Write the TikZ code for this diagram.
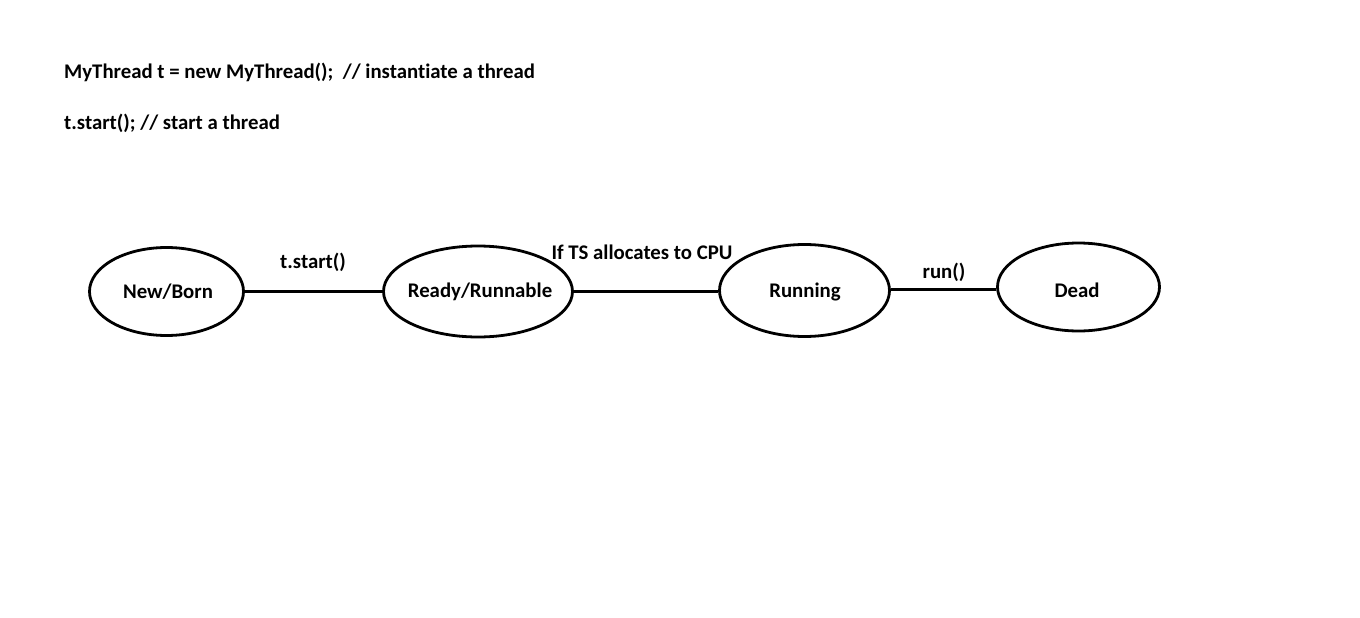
\documentclass[tikz,border=0pt]{standalone}
\usepackage{fontspec}
\setmainfont[RawFeature=-liga]{Carlito}
\usetikzlibrary{shapes.geometric}
\begin{document}
\begin{tikzpicture}[x=1pt,y=-1pt,
  state/.style={draw,line width=2.8pt,ellipse,inner sep=0pt},
  txt/.style={font=\bfseries\fontsize{20.8}{24}\selectfont,inner sep=0pt},
  conn/.style={line width=3pt}]
\useasboundingbox (0,0) rectangle (1360,618);
\fill[white] (0,0) rectangle (1360,618);
\node[txt,anchor=base west] (l1) at (64,78) {MyThread t = new MyThread();~~// instantiate a thread};
\node[txt,anchor=base west] (l2) at (64,129) {t.start(); // start a thread};
\node[state,minimum width=154,minimum height=88] (nb) at (166.5,291.5) {};
\node[state,minimum width=189,minimum height=91] (rr) at (478,291.5) {};
\node[state,minimum width=170,minimum height=92] (ru) at (804.5,290.5) {};
\node[state,minimum width=162,minimum height=88] (de) at (1078.5,287) {};
\node[txt] (tnb) at (168,292) {New/Born};
\node[txt] (trr) at (480,292) {Ready/Runnable};
\node[txt] (tru) at (805,292) {Running};
\node[txt] (tde) at (1077,290) {Dead};
\draw[conn] (nb.east) -- (nb.east -| rr.west);
\draw[conn] (rr.east) -- (rr.east -| ru.west);
\draw[conn] ([yshift=1pt]ru.east) -- ([yshift=1pt]ru.east -| de.west);
\node[txt] (lab1) at (313,262) {t.start()};
\node[txt] (lab2) at (642,252) {If TS allocates to CPU};
\node[txt] (lab3) at (944,272) {run()};
\end{tikzpicture}
\end{document}
